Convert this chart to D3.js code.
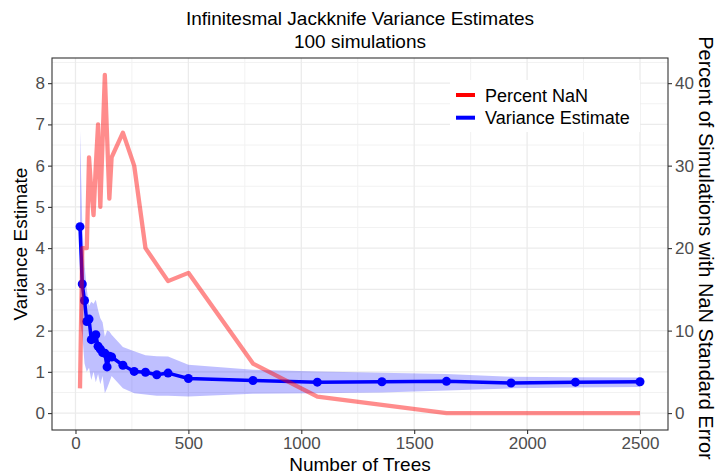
<!DOCTYPE html>
<html>
<head>
<meta charset="utf-8">
<script src="https://d3js.org/d3.v7.min.js"></script>
<style>
body { margin: 0; background: white; }
text { font-family: "Liberation Sans", Arial, sans-serif; }
</style>
</head>
<body>
<script>
const width = 717;
const height = 474;
const margin = {top: 58, right: 49, bottom: 44, left: 52};

// number of trees per run
const trees = [20, 30, 40, 50, 60, 70, 80, 90, 100, 110, 120, 130, 140, 150, 160,
    210, 260, 310, 360, 410, 500, 786, 1071, 1357, 1643, 1929, 2214, 2500];
const varianceEstimate = [4.52, 3.13, 2.73, 2.22, 2.28, 1.78, 1.80, 1.90, 1.62, 1.55, 1.47, 1.45, 1.12, 1.38, 1.36,
    1.16, 1.01, 0.99, 0.93, 0.97, 0.84, 0.79, 0.75, 0.76, 0.77, 0.73, 0.75, 0.76];
const ribbonLow = [2.2, 1.9, 1.2, 1.0, 1.1, 0.8, 1.0, 0.75, 0.95, 0.7, 0.9, 0.48, 0.6, 0.75, 0.9,
    0.6, 0.48, 0.45, 0.42, 0.42, 0.40, 0.47, 0.48, 0.50, 0.55, 0.60, 0.62, 0.63];
const ribbonHigh = [6.85, 4.6, 3.6, 3.0, 2.6, 2.7, 2.65, 2.75, 2.5, 2.3, 2.2, 1.85, 2.0, 1.98, 1.9,
    1.6, 1.5, 1.4, 1.38, 1.37, 1.17, 1.05, 1.01, 0.98, 0.95, 0.88, 0.87, 0.86];
const percentNaN = [3, 20, 20, 20, 31, 27, 24, 30, 35, 25, 33, 41, 33.5, 26, 31,
    34, 30, 20, 18, 16, 17, 6, 2, 1, 0, 0, 0, 0];

const xTicks = [0, 500, 1000, 1500, 2000, 2500];
const xMinor = [250, 750, 1250, 1750, 2250];
const yTicks = [0, 1, 2, 3, 4, 5, 6, 7, 8];
const yMinor = [0.5, 1.5, 2.5, 3.5, 4.5, 5.5, 6.5, 7.5, 8.5];
const rightTicks = [0, 10, 20, 30, 40];
const legendLabels = ["Percent NaN", "Variance Estimate"];
const legendColors = ["#ff0000", "#0000ff"];

let data = trees.map(function(t, i) {
    return {trees: t, v: varianceEstimate[i], lo: ribbonLow[i], hi: ribbonHigh[i], nan: percentNaN[i]};
});

let svg = d3.select("body").append("svg")
    .attr("width", width)
    .attr("height", height);

let x = d3.scaleLinear()
    .domain([-104, 2624])
    .range([margin.left, width - margin.right]);

let y = d3.scaleLinear()
    .domain([-0.41, 8.61])
    .range([height - margin.bottom, margin.top]);

// secondary axis is just the primary times 5
let yRight = d3.scaleLinear()
    .domain([-0.41 * 5, 8.61 * 5])
    .range([height - margin.bottom, margin.top]);

let grid = svg.append("g");
grid.selectAll(".xminor").data(xMinor).enter().append("line")
    .attr("x1", d => x(d)).attr("x2", d => x(d))
    .attr("y1", margin.top).attr("y2", height - margin.bottom)
    .attr("stroke", "#f2f2f2").attr("stroke-width", 1);
grid.selectAll(".yminor").data(yMinor).enter().append("line")
    .attr("y1", d => y(d)).attr("y2", d => y(d))
    .attr("x1", margin.left).attr("x2", width - margin.right)
    .attr("stroke", "#f2f2f2").attr("stroke-width", 1);
grid.selectAll(".xmajor").data(xTicks).enter().append("line")
    .attr("x1", d => x(d)).attr("x2", d => x(d))
    .attr("y1", margin.top).attr("y2", height - margin.bottom)
    .attr("stroke", "#ebebeb").attr("stroke-width", 1.3);
grid.selectAll(".ymajor").data(yTicks).enter().append("line")
    .attr("y1", d => y(d)).attr("y2", d => y(d))
    .attr("x1", margin.left).attr("x2", width - margin.right)
    .attr("stroke", "#ebebeb").attr("stroke-width", 1.3);

// ribbon
let area = d3.area()
    .x(d => x(d.trees))
    .y0(d => y(d.lo))
    .y1(d => y(d.hi));
svg.append("path")
    .datum(data)
    .attr("d", area)
    .attr("fill", "#0000ff")
    .attr("fill-opacity", 0.25);

let blueLine = d3.line()
    .x(d => x(d.trees))
    .y(d => y(d.v));
svg.append("path")
    .datum(data)
    .attr("d", blueLine)
    .attr("fill", "none")
    .attr("stroke", "#0000ff")
    .attr("stroke-width", 3.5)
    .attr("stroke-linejoin", "round");

svg.selectAll(".pt")
    .data(data)
    .enter().append("circle")
    .attr("cx", d => x(d.trees))
    .attr("cy", d => y(d.v))
    .attr("r", 4.5)
    .attr("fill", "#0000ff");

let redLine = d3.line()
    .x(d => x(d.trees))
    .y(d => yRight(d.nan));
svg.append("path")
    .datum(data)
    .attr("d", redLine)
    .attr("fill", "none")
    .attr("stroke", "#ff0000")
    .attr("stroke-opacity", 0.45)
    .attr("stroke-width", 4.3)
    .attr("stroke-linejoin", "round");

// axes
function styleAxis(g) {
    g.select(".domain").remove();
    g.selectAll(".tick line").attr("stroke", "#333333").attr("stroke-width", 1.1);
    g.selectAll(".tick text")
        .attr("fill", "#4d4d4d")
        .style("font-size", "17px")
        .style("font-family", "'Liberation Sans', Arial, sans-serif");
}

svg.append("g")
    .attr("transform", "translate(0," + (height - margin.bottom) + ")")
    .call(d3.axisBottom(x).tickValues(xTicks).tickFormat(d3.format("d")).tickSize(4).tickPadding(3))
    .call(styleAxis);

svg.append("g")
    .attr("transform", "translate(" + margin.left + ",0)")
    .call(d3.axisLeft(y).tickValues(yTicks).tickSize(4).tickPadding(3))
    .call(styleAxis);

svg.append("g")
    .attr("transform", "translate(" + (width - margin.right) + ",0)")
    .call(d3.axisRight(yRight).tickValues(rightTicks).tickSize(4).tickPadding(3))
    .call(styleAxis);

svg.append("rect")
    .attr("x", margin.left)
    .attr("y", margin.top)
    .attr("width", width - margin.left - margin.right)
    .attr("height", height - margin.top - margin.bottom)
    .attr("fill", "none")
    .attr("stroke", "#333333")
    .attr("stroke-width", 1.1);

// legend
let legend = svg.append("g").attr("transform", "translate(450,80)");
legend.append("rect")
    .attr("width", 190).attr("height", 52)
    .attr("fill", "white");
legend.selectAll(".key").data(legendColors).enter().append("line")
    .attr("x1", 6).attr("x2", 25)
    .attr("y1", (d, i) => 15 + i * 22.7).attr("y2", (d, i) => 15 + i * 22.7)
    .attr("stroke", d => d)
    .attr("stroke-width", 4);
legend.selectAll(".lab").data(legendLabels).enter().append("text")
    .attr("x", 35)
    .attr("y", (d, i) => 21.5 + i * 22.7)
    .style("font-size", "18px")
    .attr("fill", "#000")
    .text(d => d);

// titles
let cx = (margin.left + width - margin.right) / 2;
let cy = (margin.top + height - margin.bottom) / 2;
svg.append("text")
    .attr("x", cx).attr("y", 25)
    .attr("text-anchor", "middle")
    .style("font-size", "19px")
    .text("Infinitesmal Jackknife Variance Estimates");
svg.append("text")
    .attr("x", cx).attr("y", 48)
    .attr("text-anchor", "middle")
    .style("font-size", "19px")
    .text("100 simulations");
svg.append("text")
    .attr("x", cx).attr("y", 471)
    .attr("text-anchor", "middle")
    .style("font-size", "19px")
    .text("Number of Trees");
svg.append("text")
    .attr("transform", "translate(27," + cy + ") rotate(-90)")
    .attr("text-anchor", "middle")
    .style("font-size", "19px")
    .text("Variance Estimate");
svg.append("text")
    .attr("transform", "translate(699," + (cy + 4) + ") rotate(90)")
    .attr("text-anchor", "middle")
    .style("font-size", "20px")
    .text("Percent of Simulations with NaN Standard Error");
</script>
</body>
</html>
